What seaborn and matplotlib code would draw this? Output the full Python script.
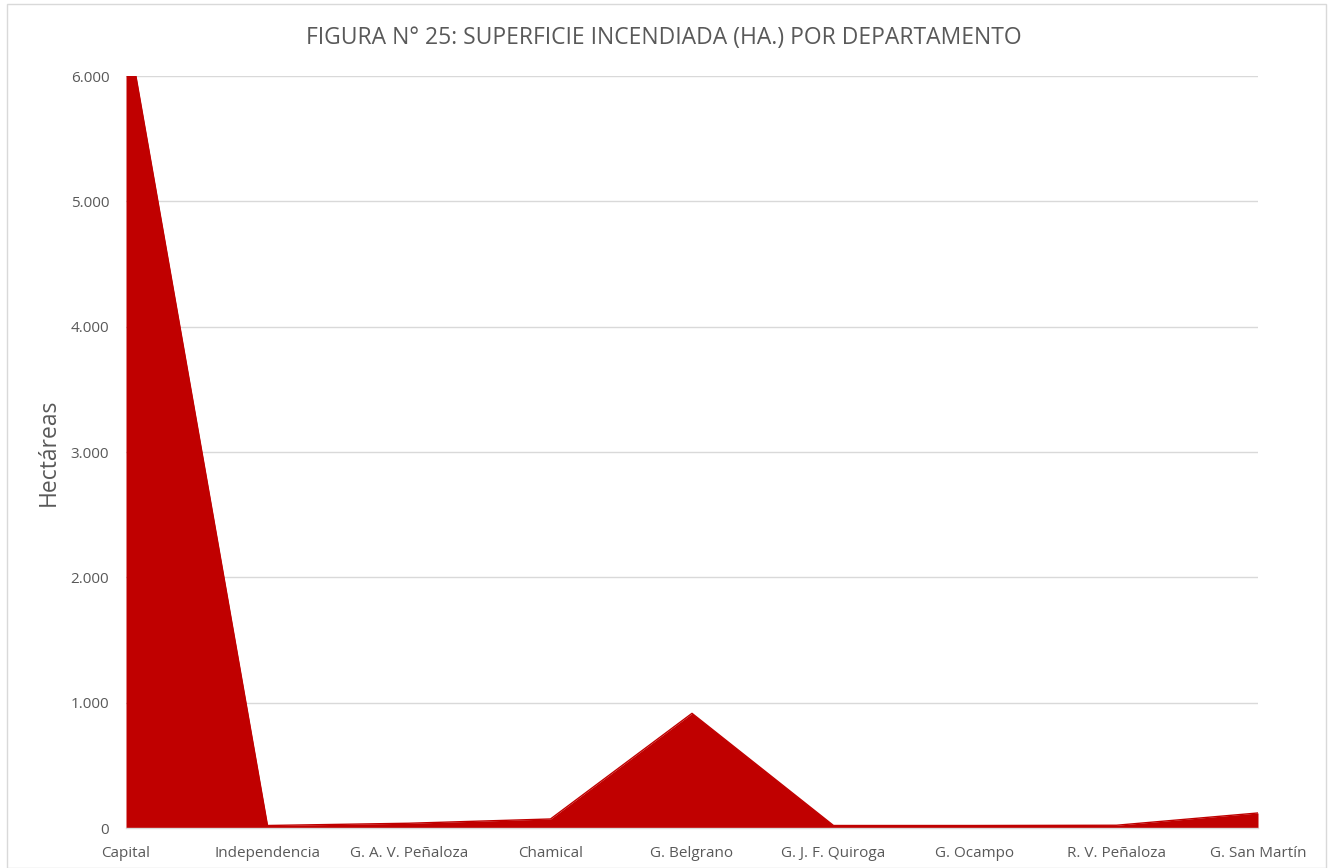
import matplotlib
matplotlib.use("Agg")
import matplotlib.pyplot as plt
import seaborn as sns
import pandas as pd
from matplotlib.patches import Rectangle
from matplotlib.ticker import FuncFormatter, MultipleLocator

departamentos = ["Capital", "Independencia", "G. A. V. Peñaloza", "Chamical", "G. Belgrano",
                 "G. J. F. Quiroga", "G. Ocampo", "R. V. Peñaloza", "G. San Martín"]
hectareas = [6450, 20, 38, 72, 915, 20, 20, 22, 120]

df = pd.DataFrame({"pos": range(len(departamentos)), "ha": hectareas, "dep": departamentos})

sns.set_theme(style="white")
plt.rcParams['font.family'] = ['Open Sans', 'DejaVu Sans']

grey = "#595959"
red = "#C00000"

fig = plt.figure(figsize=(13.28, 8.68), dpi=100)
ax = fig.add_axes([126/1328, 1-828/868, (1258-126)/1328, (828-76)/868])

ax.fill_between(df["pos"], 0, df["ha"], color=red, linewidth=0, zorder=3)
sns.lineplot(data=df, x="pos", y="ha", ax=ax, color=red, linewidth=1, zorder=3)

ax.set_xlim(0, len(departamentos) - 1)
ax.set_ylim(0, 6000)
ax.yaxis.set_major_locator(MultipleLocator(1000))
ax.yaxis.set_major_formatter(FuncFormatter(lambda v, p: f"{int(v):,}".replace(",", ".")))
ax.set_xticks(df["pos"])
ax.set_xticklabels(departamentos)
ax.grid(axis="y", color="#d9d9d9", linewidth=1, zorder=0)
ax.set_axisbelow(True)

for s in ["top", "right", "left"]:
    ax.spines[s].set_visible(False)
ax.spines["bottom"].set_color("#d9d9d9")
ax.spines["bottom"].set_linewidth(1)
ax.spines["bottom"].set_zorder(4)

ax.tick_params(axis="x", colors="#d9d9d9", length=5, width=1, direction="out", labelcolor=grey,
               labelsize=11, pad=8)
ax.tick_params(axis="y", length=0, labelcolor=grey, labelsize=11, pad=12)
ax.set_xlabel("")
ax.set_ylabel("Hectáreas", color=grey, fontsize=16.5)
ax.yaxis.set_label_coords(-0.058, 0.5)

fig.text(0.5, 1-38/868, "FIGURA N° 25: SUPERFICIE INCENDIADA (HA.) POR DEPARTAMENTO",
         ha="center", va="center", fontsize=16.5, color=grey)

fig.patches.append(Rectangle((7/1328, 0), 1 - 7/1328 - 2/1328, 1 - 4/868, transform=fig.transFigure,
                             fill=False, edgecolor="#d9d9d9", linewidth=1))

fig.savefig("out.png", dpi=100)
